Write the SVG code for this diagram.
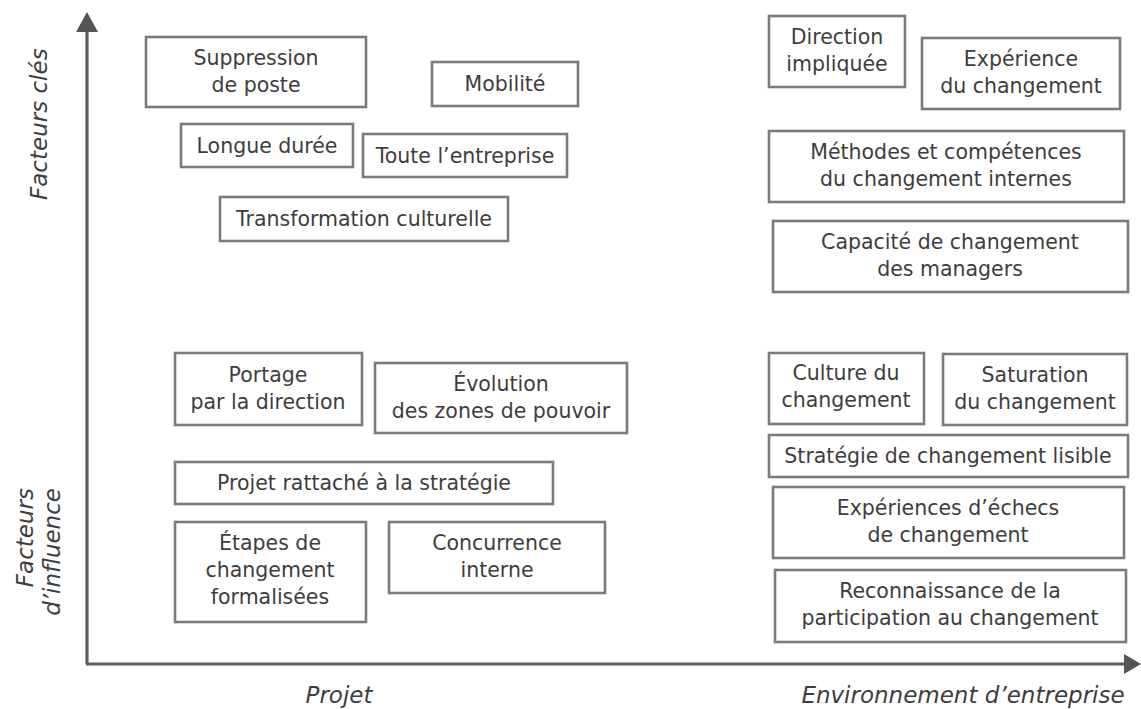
<svg xmlns="http://www.w3.org/2000/svg" width="1141" height="709" viewBox="0 0 1141 709">
<style>
.box rect{fill:#fff;stroke:#7b7b7b;stroke-width:2.6}
.box text{font-family:"DejaVu Sans",sans-serif;font-size:20.5px;fill:#3d3d3d;text-anchor:middle}
.axis{stroke:#5e5e5e;stroke-width:3.2;fill:none}
.head{fill:#555}
.lab{font-family:"DejaVu Sans",sans-serif;font-size:23px;font-style:italic;fill:#3d3d3d}
</style>
<rect width="1141" height="709" fill="#fff"/>
<g id="axes">
<line class="axis" x1="87" y1="664" x2="87" y2="28"/>
<line class="axis" x1="86" y1="664" x2="1126" y2="664"/>
<polygon class="head" points="87,12 76,32 98,32"/>
<polygon class="head" points="1141,664 1124,654 1124,674"/>
</g>
<g id="labels">
<text class="lab" transform="translate(47,200) rotate(-90)">Facteurs clés</text>
<text class="lab" text-anchor="end" transform="translate(33,488) rotate(-90)">Facteurs</text>
<text class="lab" text-anchor="end" transform="translate(60,488) rotate(-90)">d’influence</text>
<text class="lab" x="339" y="703" text-anchor="middle">Projet</text>
<text class="lab" x="963" y="703" text-anchor="middle">Environnement d’entreprise</text>
</g>
<g id="n1" class="box"><rect x="146" y="37" width="220" height="70"/><text x="256" y="65">Suppression</text><text x="256" y="92">de poste</text></g>
<g id="n2" class="box"><rect x="432" y="62" width="146" height="44"/><text x="505" y="91">Mobilité</text></g>
<g id="n3" class="box"><rect x="181" y="124" width="172" height="43"/><text x="267" y="153">Longue durée</text></g>
<g id="n4" class="box"><rect x="363" y="134" width="204" height="43"/><text x="465" y="163">Toute l’entreprise</text></g>
<g id="n5" class="box"><rect x="220" y="197" width="288" height="44"/><text x="364" y="226">Transformation culturelle</text></g>
<g id="n6" class="box"><rect x="769" y="16" width="136" height="71"/><text x="837" y="44">Direction</text><text x="837" y="71">impliquée</text></g>
<g id="n7" class="box"><rect x="922" y="38" width="198" height="71"/><text x="1021" y="66">Expérience</text><text x="1021" y="93">du changement</text></g>
<g id="n8" class="box"><rect x="769" y="131" width="355" height="71"/><text x="946" y="159">Méthodes et compétences</text><text x="946" y="186">du changement internes</text></g>
<g id="n9" class="box"><rect x="773" y="221" width="355" height="71"/><text x="950" y="249">Capacité de changement</text><text x="950" y="276">des managers</text></g>
<g id="n10" class="box"><rect x="175" y="353" width="187" height="72"/><text x="268" y="382">Portage</text><text x="268" y="409">par la direction</text></g>
<g id="n11" class="box"><rect x="375" y="363" width="252" height="70"/><text x="501" y="391">Évolution</text><text x="501" y="418">des zones de pouvoir</text></g>
<g id="n12" class="box"><rect x="175" y="462" width="378" height="42"/><text x="364" y="490">Projet rattaché à la stratégie</text></g>
<g id="n13" class="box"><rect x="175" y="522" width="191" height="100"/><text x="270" y="550">Étapes de</text><text x="270" y="577">changement</text><text x="270" y="604">formalisées</text></g>
<g id="n14" class="box"><rect x="389" y="522" width="216" height="71"/><text x="497" y="550">Concurrence</text><text x="497" y="577">interne</text></g>
<g id="n15" class="box"><rect x="769" y="353" width="155" height="71"/><text x="846" y="380">Culture du</text><text x="846" y="407">changement</text></g>
<g id="n16" class="box"><rect x="943" y="354" width="184" height="71"/><text x="1035" y="382">Saturation</text><text x="1035" y="409">du changement</text></g>
<g id="n17" class="box"><rect x="769" y="435" width="359" height="42"/><text x="948" y="463">Stratégie de changement lisible</text></g>
<g id="n18" class="box"><rect x="773" y="487" width="351" height="71"/><text x="948" y="515">Expériences d’échecs</text><text x="948" y="542">de changement</text></g>
<g id="n19" class="box"><rect x="775" y="570" width="351" height="72"/><text x="950" y="598">Reconnaissance de la</text><text x="950" y="625">participation au changement</text></g>
</svg>
